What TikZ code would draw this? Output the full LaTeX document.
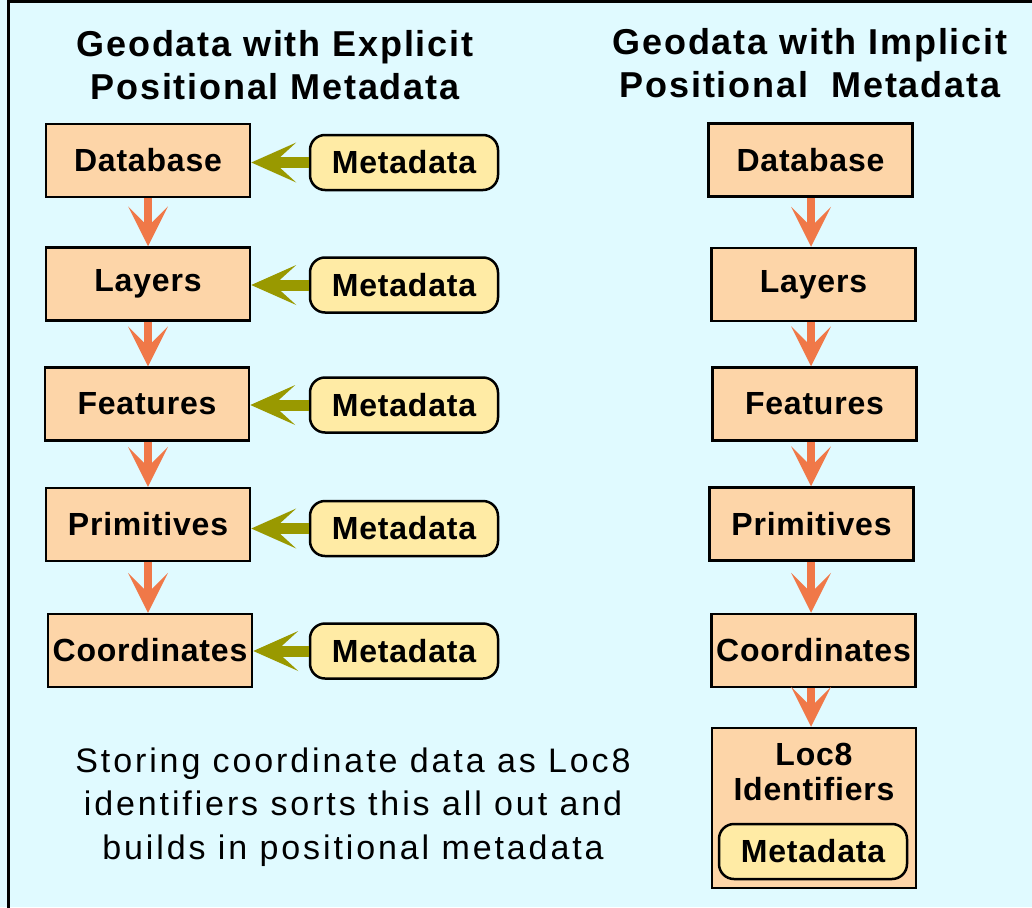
\documentclass[tikz,border=0pt]{standalone}
\usepackage{fontspec}
\setmainfont{Liberation Sans}
\newfontfamily\fontbox[LetterSpace=2.5]{Liberation Sans}
\newfontfamily\fonttitolo[LetterSpace=5]{Liberation Sans}
\newfontfamily\fontnota[LetterSpace=8.5]{Liberation Sans}
\usepackage{xcolor}
\usepackage{tikz}
\usetikzlibrary{arrows.meta}
\definecolor{sfondo}{HTML}{E0FAFF}
\definecolor{pesca}{HTML}{FDD5A8}
\definecolor{giallo}{HTML}{FFEBA5}
\definecolor{arancio}{HTML}{F07848}
\definecolor{oliva}{HTML}{999900}
\tikzset{
    livello/.style={
        draw, line width=2.5pt, fill=pesca,
        minimum width=204pt, minimum height=73pt,
        font=\fontbox\fontsize{32}{36}\selectfont\bfseries
    },
    meta/.style={
        draw, line width=2.5pt, fill=giallo, rounded corners=15pt,
        minimum width=188pt, minimum height=55pt,
        font=\fontbox\fontsize{32}{36}\selectfont\bfseries
    },
    giu/.style={
        draw=arancio, line width=8pt,
        -{Stealth[length=40pt,width=40pt,inset=20pt,line width=0pt]}
    },
    sin/.style={
        draw=oliva, line width=11pt,
        -{Stealth[length=45pt,width=40pt,inset=22pt,line width=0pt]}
    },
    titolo/.style={
        align=center, font=\fonttitolo\fontsize{36}{43}\selectfont\bfseries
    }
}
\begin{document}
\begin{tikzpicture}[x=1pt,y=-1pt]

% Sfondo e cornice
\useasboundingbox (0,0) rectangle (1032,907);
\fill[sfondo] (0,0) rectangle (1032,907);
\draw[line width=3pt] (8.5,920) -- (8.5,1.5) -- (1040,1.5);

% Titoli
\node[titolo] (tsx) at (275,65) {Geodata with Explicit\\Positional Metadata};
\node[titolo] (tdx) at (810,63) {Geodata with Implicit\\Positional\ \ Metadata};

% Colonna sinistra
\node[livello] (ldb)    at (148,160.5) {Database};
\node[livello] (llay)   at (148,284)   {Layers};
\node[livello] (lfeat)  at (147,404)   {Features};
\node[livello] (lprim)  at (148,524.5) {Primitives};
\node[livello] (lcoord) at (150,650.5) {Coordinates};

\node[meta] (mdb)    at (404,162.5) {Metadata};
\node[meta] (mlay)   at (404,285)   {Metadata};
\node[meta] (mfeat)  at (404,405)   {Metadata};
\node[meta] (mprim)  at (404,528.5) {Metadata};
\node[meta] (mcoord) at (404,651)   {Metadata};

% Frecce sinistra
\foreach \a/\b in {ldb/llay, llay/lfeat, lfeat/lprim, lprim/lcoord}
    \draw[giu] (\a.south -| 148,0) -- (\b.north -| 148,0);
\foreach \m/\l in {mdb/ldb, mlay/llay, mfeat/lfeat, mprim/lprim, mcoord/lcoord}
    \draw[sin] (\m.west) -- (\l.east |- \m.west);

% Colonna destra
\node[livello] (rdb)    at (810.5,160)   {Database};
\node[livello] (rlay)   at (813.5,284.5) {Layers};
\node[livello] (rfeat)  at (814.5,404)   {Features};
\node[livello] (rprim)  at (811.5,524)   {Primitives};
\node[livello] (rcoord) at (813.5,650.5) {Coordinates};
\node[livello, minimum height=160pt] (rloc) at (814,808) {};
\node[align=center, font=\fontbox\fontsize{32}{35}\selectfont\bfseries]
    (rloctxt) at (814,772) {Loc8\\Identifiers};
\node[meta] (rmeta) at (813,851.5) {Metadata};

% Frecce destra
\foreach \a/\b in {rdb/rlay, rlay/rfeat, rfeat/rprim, rprim/rcoord, rcoord/rloc}
    \draw[giu] (\a.south -| 811,0) -- (\b.north -| 811,0);

% Testo in basso
\node[align=center, font=\fontnota\fontsize{34}{43.5}\selectfont]
    (nota) at (353,807) {Storing coordinate data as Loc8\\identifiers sorts this all out and\\builds in positional metadata};

\end{tikzpicture}
\end{document}
